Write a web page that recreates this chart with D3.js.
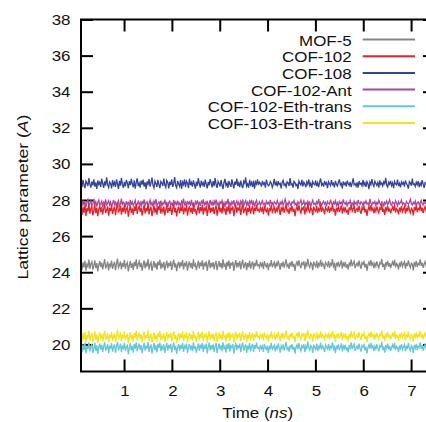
<!DOCTYPE html>
<html>
<head>
<meta charset="utf-8">
<script src="https://cdn.jsdelivr.net/npm/d3@7"></script>
<style>
html,body{margin:0;padding:0;background:#fff;}
svg{display:block;font-family:"Liberation Sans",Arial,sans-serif;}
</style>
</head>
<body>
<svg id="chart" width="426" height="422"></svg>
<script>
// ---------------- data ----------------
const seriesNames = ["MOF-5","COF-102","COF-108","COF-102-Ant","COF-102-Eth-trans","COF-103-Eth-trans"];
const seriesColors = ["#858585","#ec1f27","#33449c","#a8479c","#63c7da","#f0e41a"];
const timeStart = 0.1, timeEnd = 7.5; // ns, sampling window of the trajectories
const xTicks = [1,2,3,4,5,6,7];
const yTicks = [20,22,24,26,28,30,32,34,36,38];

const mof5 = [
24.38,24.12,24.55,24.27,24.63,24.08,24.44,24.31,24.70,24.19,
24.47,24.58,24.14,24.36,24.66,24.23,24.50,24.05,24.41,24.61,
24.29,24.53,24.16,24.45,24.72,24.21,24.37,24.59,24.10,24.48,
24.33,24.64,24.18,24.42,24.56,24.11,24.46,24.75,24.26,24.39,
24.60,24.15,24.51,24.30,24.68,24.20,24.43,24.54,24.04,24.36,
24.62,24.24,24.49,24.13,24.57,24.34,24.71,24.17,24.45,24.60,
24.28,24.52,24.09,24.40,24.65,24.22,24.48,24.32,24.73,24.16,
24.42,24.55,24.07,24.35,24.62,24.25,24.50,24.14,24.59,24.38,
24.69,24.19,24.46,24.31,24.57,24.10,24.41,24.64,24.23,24.52,
24.34,24.61,24.13,24.44,24.70,24.27,24.49,24.06,24.40,24.58,
24.22,24.54,24.33,24.67,24.15,24.47,24.37,24.61,24.09,24.43,
24.59,24.26,24.50,24.18,24.72,24.31,24.45,24.12,24.39,24.63,
24.21,24.55,24.34,24.66,24.14,24.48,24.38,24.60,24.08,24.42,
24.68,24.24,24.52,24.30,24.56,24.17,24.46,24.62,24.11,24.39,
24.61,24.28,24.51,24.20,24.71,24.35,24.44,24.13,24.57,24.32,
24.65,24.18,24.49,24.41,24.58,24.07,24.43,24.67,24.25,24.53,
24.36,24.62,24.15,24.47,24.69,24.22,24.41,24.56,24.12,24.50,
24.29,24.64,24.19,24.45,24.59,24.16,24.52,24.34,24.68,24.37,
24.41,24.27,24.56,24.35,24.48,24.18,24.62,24.39,24.30,24.52,
24.11,24.45,24.37,24.67,24.28,24.43,24.55,24.21,24.49,24.33,
24.64,24.40,24.14,24.51,24.36,24.59,24.25,24.46,24.71,24.32,
24.42,24.19,24.54,24.38,24.61,24.29,24.47,24.07,24.44,24.57,
24.34,24.66,24.40,24.23,24.52,24.43,24.60,24.16,24.50,24.36,
24.74,24.39,24.27,24.53,24.45,24.12,24.58,24.41,24.31,24.63,
24.22,24.48,24.37,24.69,24.30,24.51,24.42,24.17,24.55,24.44,
24.35,24.62,24.24,24.49,24.40,24.72,24.32,24.46,24.09,24.53,
24.38,24.59,24.28,24.45,24.65,24.20,24.50,24.36,24.57,24.26,
24.43,24.15,24.54,24.39,24.70,24.33,24.48,24.61,24.23,24.41,
24.50,24.31,24.64,24.37,24.19,24.53,24.44,24.58,24.27,24.46,
24.08,24.42,24.56,24.35,24.67,24.40,24.51,24.22,24.49,24.33,
24.60,24.38,24.25,24.52,24.45,24.73,24.30,24.47,24.13,24.55,
24.39,24.63,24.32,24.50,24.23,24.43,24.57,24.36,24.68,24.27,
24.48,24.41,24.16,24.53,24.37,24.61,24.31,24.46,24.58,24.20,
24.52,24.34,24.66,24.40,24.25,24.50,24.44,24.10,24.56,24.38,
24.62,24.29,24.49,24.42,24.71,24.35,24.53,24.24,24.46,24.59,
24.33,24.45,24.18,24.54,24.39,24.65,24.30,24.51,24.41,24.57];

const cof102 = [
27.45,27.18,27.62,27.30,27.71,27.12,27.55,27.38,27.79,27.24,
27.50,27.66,27.15,27.42,27.74,27.27,27.58,27.10,27.47,27.69,
27.33,27.60,27.20,27.52,27.77,27.28,27.44,27.65,27.13,27.56,
27.39,27.72,27.22,27.48,27.63,27.16,27.53,27.81,27.31,27.46,
27.68,27.19,27.57,27.35,27.75,27.25,27.49,27.61,27.08,27.43,
27.70,27.29,27.54,27.17,27.64,27.40,27.78,27.23,27.51,27.67,
27.34,27.59,27.14,27.45,27.73,27.26,27.55,27.37,27.80,27.21,
27.48,27.62,27.11,27.41,27.69,27.30,27.57,27.19,27.66,27.44,
27.76,27.24,27.52,27.36,27.63,27.15,27.47,27.71,27.28,27.58,
27.40,27.67,27.18,27.50,27.77,27.32,27.55,27.09,27.46,27.64,
27.27,27.60,27.38,27.74,27.20,27.53,27.42,27.68,27.13,27.49,
27.65,27.31,27.56,27.23,27.79,27.36,27.51,27.16,27.45,27.70,
27.26,27.61,27.39,27.72,27.19,27.54,27.43,27.66,27.12,27.48,
27.75,27.29,27.58,27.35,27.62,27.21,27.52,27.69,27.14,27.44,
27.67,27.33,27.57,27.25,27.78,27.40,27.50,27.17,27.63,27.37,
27.71,27.22,27.55,27.46,27.64,27.10,27.49,27.73,27.30,27.59,
27.41,27.68,27.18,27.53,27.76,27.27,27.47,27.62,27.15,27.56,
27.34,27.70,27.24,27.51,27.65,27.20,27.58,27.39,27.74,27.43,
27.48,27.31,27.62,27.40,27.55,27.22,27.67,27.44,27.36,27.58,
27.14,27.51,27.43,27.73,27.33,27.47,27.60,27.26,27.53,27.39,
27.69,27.45,27.18,27.56,27.42,27.64,27.30,27.50,27.77,27.37,
27.46,27.24,27.59,27.41,27.66,27.35,27.52,27.11,27.49,27.61,
27.38,27.71,27.44,27.28,27.57,27.47,27.65,27.20,27.54,27.40,
27.80,27.43,27.32,27.58,27.50,27.16,27.63,27.45,27.37,27.68,
27.27,27.52,27.41,27.74,27.34,27.56,27.46,27.21,27.60,27.48,
27.39,27.67,27.29,27.53,27.44,27.78,27.36,27.51,27.13,27.57,
27.42,27.64,27.33,27.49,27.70,27.25,27.55,27.40,27.62,27.30,
27.47,27.19,27.59,27.43,27.75,27.38,27.52,27.66,27.28,27.45,
27.54,27.35,27.69,27.41,27.23,27.58,27.48,27.63,27.32,27.50,
27.12,27.46,27.61,27.39,27.72,27.44,27.55,27.26,27.53,27.37,
27.65,27.42,27.30,27.57,27.49,27.79,27.34,27.51,27.17,27.60,
27.43,27.68,27.36,27.54,27.27,27.47,27.62,27.40,27.73,27.31,
27.52,27.45,27.20,27.58,27.41,27.66,27.35,27.50,27.63,27.24,
27.56,27.38,27.71,27.44,27.29,27.55,27.48,27.15,27.61,27.42,
27.67,27.33,27.53,27.46,27.76,27.39,27.57,27.28,27.50,27.64,
27.37,27.49,27.22,27.59,27.43,27.70,27.34,27.55,27.45,27.62];

const cof108 = [
28.95,28.71,29.12,28.84,28.66,29.05,28.93,28.78,29.21,28.88,
28.69,29.02,28.81,29.15,28.74,28.97,28.62,29.08,28.86,28.99,
28.73,29.18,28.91,28.67,29.03,28.80,29.26,28.85,28.70,29.01,
28.92,28.64,29.10,28.83,28.98,28.72,29.14,28.89,28.61,29.06,
28.79,29.23,28.87,28.68,29.00,28.76,29.11,28.94,28.65,29.04,
28.82,29.17,28.90,28.71,29.09,28.63,28.96,29.20,28.77,28.93,
28.69,29.07,28.85,29.13,28.74,28.98,28.60,29.02,28.88,29.16,
28.75,28.95,29.24,28.81,28.67,29.05,28.91,28.72,29.12,28.86,
28.66,29.03,28.94,28.78,29.19,28.84,28.70,29.08,28.97,28.64,
29.01,28.83,29.15,28.73,28.92,29.27,28.80,28.68,29.06,28.89,
28.76,29.10,28.62,28.99,28.85,29.14,28.71,29.04,28.93,28.66,
29.18,28.82,28.97,28.74,29.09,28.87,28.63,29.02,28.79,29.21,
28.90,28.69,29.07,28.84,28.96,28.72,29.13,28.88,28.65,29.00,
28.81,29.16,28.94,28.70,29.05,28.77,29.22,28.86,28.67,29.03,
28.91,28.75,29.11,28.83,28.61,28.98,29.17,28.80,28.93,28.68,
29.06,28.87,28.73,29.14,28.90,28.64,29.01,28.85,29.19,28.78,
28.95,28.71,29.08,28.82,28.66,29.04,28.92,29.25,28.76,28.89,
28.69,29.12,28.84,28.97,28.72,29.07,28.63,29.00,28.88,29.15,
28.83,28.99,28.91,28.74,29.06,28.87,28.95,28.68,29.13,28.90,
28.79,28.84,29.02,28.93,28.70,28.88,29.17,28.81,28.97,28.76,
29.04,28.86,28.92,28.65,28.99,29.09,28.82,28.89,28.73,29.01,
28.94,28.78,29.22,28.85,28.90,28.69,29.03,28.96,28.80,28.87,
28.62,29.05,28.92,28.83,29.12,28.75,28.98,28.88,28.71,29.00,
28.86,29.15,28.79,28.93,28.67,29.02,28.89,28.84,29.08,28.77,
28.95,28.72,28.99,29.19,28.82,28.91,28.74,29.04,28.87,28.96,
28.66,29.01,28.90,28.80,29.10,28.85,28.93,28.70,29.06,28.88,
28.78,28.97,29.14,28.83,28.92,28.64,29.03,28.86,28.95,28.75,
29.07,28.89,28.81,29.00,28.71,28.94,29.20,28.84,28.90,28.77,
28.98,28.68,29.05,28.87,28.93,28.79,29.11,28.82,28.96,28.73,
29.02,28.91,28.60,28.99,28.85,29.16,28.88,28.76,29.04,28.92,
28.81,28.97,28.69,29.09,28.86,28.94,28.78,29.01,28.90,29.23,
28.83,28.72,28.98,28.87,29.06,28.80,28.95,28.66,29.03,28.89,
28.84,29.13,28.77,28.92,28.70,29.00,28.88,28.97,28.74,29.08,
28.91,28.82,28.63,29.02,28.95,28.79,29.18,28.86,28.90,28.75,
28.99,28.85,29.05,28.71,28.93,28.81,29.10,28.88,28.67,28.96,
28.87,29.03,28.78,28.94,29.14,28.83,28.90,28.73,29.00,28.92];

const cof102Ant = [
27.85,27.66,27.98,27.74,27.91,27.62,27.88,28.02,27.71,27.83,
27.95,27.68,27.79,28.06,27.73,27.90,27.64,27.86,27.99,27.70,
27.81,27.93,27.60,27.87,27.76,28.04,27.69,27.84,27.96,27.72,
27.89,27.65,27.80,28.00,27.75,27.92,27.63,27.85,27.97,27.67,
27.78,28.08,27.71,27.88,27.82,27.61,27.94,27.77,27.86,27.66,
28.01,27.73,27.90,27.69,27.83,27.98,27.64,27.80,27.92,27.74,
27.87,27.62,27.95,27.76,28.03,27.70,27.84,27.91,27.67,27.82,
27.99,27.72,27.86,27.63,27.93,27.78,28.05,27.68,27.81,27.89,
27.74,27.96,27.65,27.85,27.79,28.02,27.71,27.90,27.60,27.87,
27.94,27.73,27.83,27.66,28.00,27.77,27.88,27.69,27.97,27.75,
27.84,27.62,27.92,27.80,28.07,27.70,27.86,27.64,27.95,27.78,
27.89,27.68,28.01,27.74,27.83,27.61,27.91,27.79,27.98,27.72,
27.85,27.66,27.93,27.81,28.04,27.69,27.87,27.75,27.96,27.63,
27.82,27.99,27.71,27.88,27.67,27.94,27.77,28.02,27.73,27.84,
27.65,27.90,27.80,27.97,27.70,27.86,27.62,27.93,27.76,28.06,
27.72,27.85,27.68,27.91,27.79,27.99,27.64,27.83,27.95,27.74,
27.88,27.61,27.92,27.78,28.03,27.69,27.84,27.97,27.71,27.87,
27.66,27.94,27.81,28.00,27.75,27.89,27.63,27.86,27.98,27.73,
27.78,27.90,27.71,27.84,27.96,27.75,27.82,27.66,27.93,27.80,
27.87,27.73,28.01,27.79,27.85,27.69,27.91,27.83,27.76,27.98,
27.81,27.64,27.88,27.77,27.94,27.72,27.86,28.04,27.79,27.83,
27.70,27.92,27.80,27.67,27.89,27.84,27.97,27.74,27.82,27.63,
27.90,27.78,27.86,28.00,27.73,27.81,27.95,27.68,27.85,27.79,
27.93,27.75,27.88,27.62,27.84,27.99,27.77,27.82,27.71,27.90,
27.80,28.05,27.74,27.87,27.69,27.83,27.94,27.78,27.86,27.65,
27.91,27.81,27.76,28.02,27.84,27.72,27.89,27.79,27.96,27.70,
27.85,27.67,27.92,27.80,27.88,27.74,28.03,27.83,27.77,27.90,
27.64,27.86,27.81,27.97,27.75,27.84,27.69,27.93,27.79,27.87,
27.72,28.00,27.82,27.76,27.91,27.85,27.66,27.89,27.80,27.95,
27.78,27.84,27.70,28.06,27.83,27.74,27.88,27.81,27.92,27.68,
27.86,27.77,27.98,27.82,27.73,27.90,27.85,27.63,27.87,27.79,
27.94,27.75,27.84,28.01,27.80,27.71,27.89,27.83,27.76,27.96,
27.82,27.67,27.91,27.78,27.86,27.99,27.74,27.85,27.80,27.69,
27.92,27.83,27.77,27.88,28.04,27.81,27.72,27.87,27.79,27.94,
27.65,27.85,27.90,27.76,27.83,27.97,27.80,27.73,27.89,27.84,
27.78,28.02,27.82,27.70,27.91,27.86,27.75,27.93,27.81,27.87];

const cof102EthTrans = [
19.82,19.55,20.01,19.69,20.08,19.50,19.91,19.74,20.12,19.61,
19.87,20.03,19.53,19.78,20.10,19.64,19.95,19.47,19.84,20.05,
19.71,19.98,19.58,19.89,20.11,19.66,19.80,20.02,19.51,19.93,
19.76,20.07,19.60,19.85,20.00,19.54,19.90,20.14,19.68,19.83,
20.04,19.57,19.94,19.73,20.09,19.63,19.86,19.99,19.46,19.79,
20.06,19.67,19.92,19.55,20.03,19.77,20.12,19.61,19.88,20.05,
19.70,19.96,19.52,19.82,20.09,19.65,19.93,19.75,20.13,19.59,
19.85,20.00,19.49,19.78,20.07,19.68,19.95,19.56,20.03,19.81,
20.10,19.62,19.90,19.74,20.01,19.53,19.84,20.08,19.66,19.97,
19.77,20.04,19.56,19.87,20.11,19.70,19.92,19.48,19.83,20.02,
19.65,19.98,19.76,20.09,19.58,19.91,19.80,20.05,19.51,19.86,
20.03,19.69,19.94,19.61,20.12,19.74,19.89,19.54,19.82,20.06,
19.64,19.99,19.77,20.08,19.57,19.92,19.81,20.04,19.50,19.85,
20.10,19.67,19.96,19.73,20.00,19.59,19.90,20.07,19.52,19.82,
20.05,19.71,19.95,19.63,20.11,19.78,19.88,19.55,20.01,19.75,
20.08,19.60,19.93,19.84,20.02,19.49,19.86,20.09,19.68,19.97,
19.79,20.05,19.57,19.91,20.10,19.65,19.85,20.00,19.53,19.94,
19.72,20.07,19.62,19.89,20.03,19.58,19.96,19.77,20.10,19.80,
19.83,19.68,19.97,19.76,19.90,19.59,20.03,19.81,19.72,19.94,
19.52,19.87,19.79,20.09,19.69,19.84,19.96,19.62,19.89,19.75,
20.05,19.82,19.55,19.92,19.78,20.00,19.66,19.86,20.13,19.73,
19.82,19.60,19.95,19.79,20.02,19.70,19.88,19.49,19.85,19.98,
19.74,20.07,19.80,19.64,19.93,19.83,20.01,19.57,19.91,19.77,
20.15,19.81,19.68,19.94,19.86,19.53,19.99,19.82,19.72,20.04,
19.63,19.88,19.78,20.10,19.71,19.92,19.83,19.58,19.96,19.84,
19.75,20.03,19.65,19.89,19.81,20.12,19.73,19.87,19.51,19.93,
19.79,20.00,19.69,19.85,20.06,19.61,19.91,19.77,19.98,19.67,
19.84,19.56,19.95,19.80,20.11,19.74,19.89,20.02,19.64,19.82,
19.91,19.72,20.05,19.78,19.60,19.94,19.85,19.99,19.68,19.87,
19.50,19.83,19.97,19.76,20.08,19.81,19.92,19.63,19.90,19.74,
20.01,19.79,19.66,19.93,19.86,20.14,19.70,19.88,19.54,19.96,
19.80,20.04,19.73,19.91,19.64,19.84,19.98,19.77,20.09,19.68,
19.89,19.82,19.57,19.95,19.78,20.02,19.72,19.87,20.00,19.61,
19.93,19.75,20.07,19.81,19.66,19.92,19.85,19.52,19.97,19.79,
20.03,19.70,19.90,19.83,20.12,19.76,19.94,19.65,19.87,20.00,
19.74,19.86,19.59,19.95,19.80,20.06,19.71,19.91,19.82,19.98];

const cof103EthTrans = [
20.42,20.15,20.61,20.29,20.70,20.10,20.51,20.34,20.77,20.21,
20.47,20.64,20.13,20.38,20.72,20.24,20.55,20.07,20.44,20.67,
20.31,20.58,20.18,20.49,20.75,20.26,20.40,20.62,20.11,20.53,
20.36,20.69,20.20,20.45,20.60,20.14,20.50,20.80,20.28,20.43,
20.66,20.17,20.54,20.33,20.73,20.23,20.46,20.59,20.06,20.39,
20.68,20.27,20.52,20.15,20.63,20.37,20.76,20.21,20.48,20.65,
20.30,20.56,20.12,20.42,20.71,20.25,20.53,20.35,20.78,20.19,
20.45,20.60,20.09,20.38,20.67,20.28,20.55,20.16,20.63,20.41,
20.74,20.22,20.50,20.34,20.61,20.13,20.44,20.69,20.26,20.57,
20.37,20.65,20.16,20.47,20.75,20.30,20.52,20.08,20.43,20.62,
20.25,20.58,20.36,20.72,20.18,20.51,20.40,20.66,20.11,20.46,
20.63,20.29,20.54,20.21,20.77,20.34,20.49,20.14,20.42,20.68,
20.24,20.59,20.37,20.70,20.17,20.52,20.41,20.64,20.10,20.45,
20.73,20.27,20.56,20.33,20.60,20.19,20.50,20.67,20.12,20.42,
20.65,20.31,20.55,20.23,20.76,20.38,20.48,20.15,20.61,20.35,
20.69,20.20,20.53,20.44,20.62,20.09,20.46,20.71,20.28,20.57,
20.39,20.66,20.17,20.51,20.74,20.25,20.45,20.60,20.13,20.54,
20.32,20.68,20.22,20.49,20.63,20.18,20.56,20.37,20.72,20.40,
20.46,20.31,20.60,20.39,20.53,20.22,20.66,20.44,20.35,20.57,
20.15,20.50,20.42,20.72,20.32,20.47,20.59,20.25,20.52,20.38,
20.68,20.45,20.18,20.55,20.41,20.63,20.29,20.49,20.76,20.36,
20.45,20.23,20.58,20.42,20.65,20.33,20.51,20.12,20.48,20.61,
20.37,20.70,20.43,20.27,20.56,20.46,20.64,20.20,20.54,20.40,
20.79,20.44,20.31,20.57,20.49,20.16,20.62,20.45,20.35,20.67,
20.26,20.51,20.41,20.73,20.34,20.55,20.46,20.21,20.59,20.47,
20.38,20.66,20.28,20.52,20.44,20.77,20.36,20.50,20.14,20.56,
20.42,20.63,20.32,20.48,20.69,20.24,20.54,20.40,20.61,20.30,
20.47,20.19,20.58,20.43,20.74,20.37,20.52,20.65,20.27,20.45,
20.54,20.35,20.68,20.41,20.23,20.57,20.48,20.62,20.31,20.50,
20.13,20.46,20.60,20.39,20.71,20.44,20.55,20.26,20.53,20.37,
20.64,20.42,20.29,20.56,20.49,20.78,20.33,20.51,20.17,20.59,
20.43,20.67,20.36,20.54,20.27,20.47,20.61,20.40,20.72,20.31,
20.52,20.45,20.20,20.58,20.41,20.65,20.35,20.50,20.63,20.24,
20.56,20.38,20.70,20.44,20.29,20.55,20.48,20.15,20.60,20.42,
20.66,20.33,20.53,20.46,20.75,20.39,20.57,20.28,20.50,20.63,
20.37,20.49,20.22,20.58,20.43,20.69,20.34,20.54,20.45,20.61];

const seriesValues = [mof5, cof102, cof108, cof102Ant, cof102EthTrans, cof103EthTrans];
const drawOrder = [0, 2, 3, 1, 5, 4]; // stacking order of the bands (last on top)

// ---------------- drawing ----------------
const svg = d3.select("#chart");
const sx = 1.1;        // glyphs in the reference are slightly wide
const fs = 15.4;

const x = d3.scaleLinear().domain([timeStart, timeEnd]).range([81, 435]);
const y = d3.scaleLinear().domain([18.5, 38]).range([371.5, 19.5]);

svg.append("rect").attr("width",426).attr("height",422).attr("fill","#fff");

svg.append("defs").append("clipPath").attr("id","plotclip")
  .append("rect").attr("x",81).attr("y",19.5).attr("width",354).attr("height",352);

// ticks (under data)
function styleTicks(g){
  g.select(".domain").remove();
  g.selectAll(".tick line").attr("stroke","#000").attr("stroke-width",2);
}
svg.append("g").attr("transform","translate(81,0)")
  .call(d3.axisLeft(y).tickValues(yTicks).tickSize(-12).tickFormat("")).call(styleTicks);
svg.append("g").attr("transform","translate(435,0)")
  .call(d3.axisRight(y).tickValues(yTicks).tickSize(-12).tickFormat("")).call(styleTicks);
svg.append("g").attr("transform","translate(0,371.5)")
  .call(d3.axisBottom(x).tickValues(xTicks).tickSize(-12).tickFormat("")).call(styleTicks);
svg.append("g").attr("transform","translate(0,19.5)")
  .call(d3.axisTop(x).tickValues(xTicks).tickSize(-12).tickFormat("")).call(styleTicks);

// data lines
const n = mof5.length;
const times = d3.range(n).map(i => timeStart + (timeEnd - timeStart) * i / (n - 1));
const line = d3.line().x((d,i) => x(times[i])).y(d => y(d));
const plot = svg.append("g").attr("clip-path","url(#plotclip)");
drawOrder.forEach(k => {
  plot.append("path").datum(seriesValues[k])
    .attr("d", line)
    .attr("fill","none")
    .attr("stroke", seriesColors[k])
    .attr("stroke-width", 1.3)
    .attr("stroke-linejoin","miter");
});

// frame on top
svg.append("rect").attr("x",81).attr("y",19.5).attr("width",354).attr("height",352)
  .attr("fill","none").attr("stroke","#000").attr("stroke-width",2);

// text helper
function label(px, py, str, anchor, extra){
  return svg.append("text")
    .attr("transform", `translate(${px},${py}) ${extra || ""} scale(${sx},1)`)
    .attr("text-anchor", anchor)
    .style("font-size", fs + "px")
    .attr("fill","#111")
    .text(str);
}

// tick labels
yTicks.forEach(v => label(70.5, y(v) + 5.5, String(v), "end"));
xTicks.forEach(v => label(x(v) + 1, 395.7, String(v), "middle"));

// axis titles
const xt = label(257.7, 418, "", "middle");
xt.append("tspan").text("Time (");
xt.append("tspan").style("font-style","italic").text("ns");
xt.append("tspan").text(")");

const yt = svg.append("text")
  .attr("transform", "translate(27.5,197) rotate(-90) scale(1.14,1)")
  .attr("text-anchor","middle")
  .style("font-size", fs + "px")
  .attr("fill","#111");
yt.append("tspan").text("Lattice parameter (");
yt.append("tspan").style("font-style","italic").text("A");
yt.append("tspan").text(")");

// legend
const legY0 = 39.5, legDy = 16.7;
seriesNames.forEach((name, i) => {
  const ly = legY0 + i * legDy;
  label(351.7, ly + 6, name, "end");
  svg.append("line")
    .attr("x1", 362.7).attr("x2", 415)
    .attr("y1", ly).attr("y2", ly)
    .attr("stroke", seriesColors[i]).attr("stroke-width", 2);
});
</script>
</body>
</html>
